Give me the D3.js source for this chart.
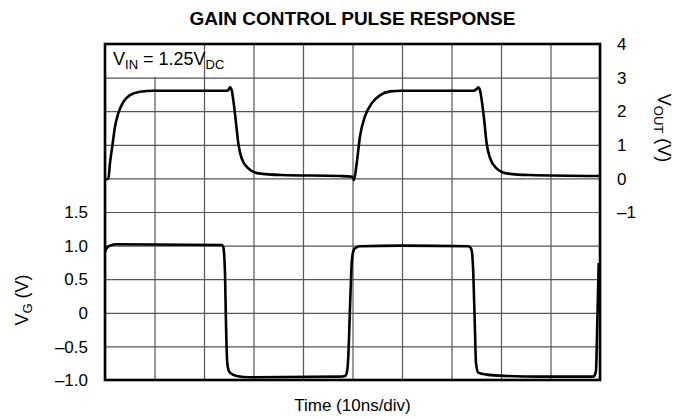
<!DOCTYPE html>
<html><head><meta charset="utf-8">
<script src="https://cdn.jsdelivr.net/npm/d3@7"></script>
<style>
html,body{margin:0;padding:0;background:#fff;}
text{font-family:"Liberation Sans",Arial,Helvetica,sans-serif;fill:#000;}
</style></head>
<body><svg id="c" width="673" height="419"></svg>
<script>
// Time in ns (10 ns/div)
const timeDomain = [0, 100];
const timeTicks = [0,10,20,30,40,50,60,70,80,90,100];
// V_OUT (right axis)
const voutDomain = [-6, 4];
const voutTicks = [4,3,2,1,0,-1];
const voutTickLabels = ["4","3","2","1","0","\u20131"];
// V_G (left axis)
const vgDomain = [-1, 4];
const vgTicks = [1.5,1.0,0.5,0,-0.5,-1.0];
const vgTickLabels = ["1.5","1.0","0.5","0","\u20130.5","\u20131.0"];
const gridY = [-1,-0.5,0,0.5,1,1.5,2,2.5,3,3.5,4];

const voutT = [0,0.67,1.0,1.55,2.02,2.69,3.7,5.05,7.07,9.76,24.6,25.0,25.25,25.6,25.92,26.4,26.93,27.6,28.95,30.97,35.7,47.5,50.0,50.3,50.85,51.5,52.5,53.9,55.6,57.6,59.9,74.4,75.0,75.4,75.75,76.1,76.6,77.1,77.8,79.1,81.1,85.7,100];
const voutV = [-0.02,-0.02,0.45,1.04,1.54,1.94,2.28,2.48,2.58,2.61,2.61,2.65,2.71,2.62,2.33,1.74,1.04,0.6,0.3,0.15,0.1,0.07,0.05,-0.05,0.45,1.24,1.84,2.24,2.48,2.59,2.61,2.61,2.65,2.71,2.63,2.33,1.74,1.04,0.6,0.3,0.15,0.1,0.07];

const vgT = [0,0.4,1.0,2.36,23.6,23.9,24.04,24.24,24.44,24.7,25.0,25.25,26.6,29.3,47.5,48.5,48.95,49.15,49.5,49.84,50.1,50.5,51.5,59.9,73.4,73.8,74.1,74.4,74.7,74.95,75.4,77.1,81.2,87.9,98.65,99.0,99.2,99.45,99.74];
const vgV = [0.91,0.97,1.0,1.02,1.01,0.98,0.9,0.59,-0.15,-0.75,-0.86,-0.89,-0.94,-0.96,-0.95,-0.94,-0.85,-0.65,0.09,0.74,0.9,0.96,0.99,1.0,0.99,0.97,0.92,0.59,-0.15,-0.75,-0.89,-0.92,-0.94,-0.95,-0.95,-0.92,-0.85,-0.15,0.74];

const L=105,R=600,T=44,B=380;
const svg=d3.select("#c");
const x=d3.scaleLinear().domain(timeDomain).range([L,R]);
const yR=d3.scaleLinear().domain(voutDomain).range([B,T]);
const yL=d3.scaleLinear().domain(vgDomain).range([B,T]);

// grid
const g=svg.append("g");
g.append("g").attr("transform",`translate(0,${B})`)
 .call(d3.axisBottom(x).tickValues(timeTicks).tickSize(-(B-T)).tickFormat(""))
 .call(s=>s.select(".domain").remove())
 .call(s=>s.selectAll("line").attr("stroke","#555").attr("stroke-width",1.2));
g.append("g").attr("transform",`translate(${L},0)`)
 .call(d3.axisLeft(yL).tickValues(gridY).tickSize(-(R-L)).tickFormat(""))
 .call(s=>s.select(".domain").remove())
 .call(s=>s.selectAll("line").attr("stroke","#555").attr("stroke-width",1.2));

// label box
svg.append("rect").attr("x",L).attr("y",T).attr("width",x(20)-L-1.5).attr("height",yL(3.5)-T-0.8).attr("fill","#fff");
const vin=svg.append("text").attr("x",L+8).attr("y",T+21).attr("font-size",18);
vin.append("tspan").text("V");
vin.append("tspan").attr("font-size",13).attr("dy",4).text("IN");
vin.append("tspan").attr("dy",-4).text(" = 1.25V");
vin.append("tspan").attr("font-size",13).attr("dy",4).text("DC");

// curves
const lineR=d3.line().x(d=>x(d[0])).y(d=>yR(d[1])).curve(d3.curveMonotoneX);
const lineL=d3.line().x(d=>x(d[0])).y(d=>yL(d[1])).curve(d3.curveMonotoneX);
svg.append("path").attr("d",lineR(voutT.map((t,i)=>[t,voutV[i]]))).attr("fill","none").attr("stroke","#000").attr("stroke-width",2.6).attr("stroke-linejoin","round");
svg.append("path").attr("d",lineL(vgT.map((t,i)=>[t,vgV[i]]))).attr("fill","none").attr("stroke","#000").attr("stroke-width",2.6).attr("stroke-linejoin","round");

// frame
svg.append("rect").attr("x",L).attr("y",T).attr("width",R-L).attr("height",B-T).attr("fill","none").attr("stroke","#000").attr("stroke-width",2.6);

// tick labels
svg.append("g").selectAll("text").data(vgTicks).join("text")
 .attr("x",88).attr("y",d=>yL(d)).attr("dy","0.36em").attr("text-anchor","end").attr("font-size",17)
 .text((d,i)=>vgTickLabels[i]);
svg.append("g").selectAll("text").data(voutTicks).join("text")
 .attr("x",617).attr("y",d=>yR(d)).attr("dy","0.36em").attr("text-anchor","start").attr("font-size",17)
 .text((d,i)=>voutTickLabels[i]);

// title
svg.append("text").attr("x",(L+R)/2).attr("y",25).attr("text-anchor","middle").attr("font-size",19).attr("font-weight","bold").text("GAIN CONTROL PULSE RESPONSE");
// x label
svg.append("text").attr("x",(L+R)/2).attr("y",411).attr("text-anchor","middle").attr("font-size",17).text("Time (10ns/div)");
// right label
const rl=svg.append("text").attr("transform",`translate(658,${(T+yR(-1))/2}) rotate(90)`).attr("text-anchor","middle").attr("font-size",18);
rl.append("tspan").text("V");
rl.append("tspan").attr("font-size",13).attr("dy",4).text("OUT");
rl.append("tspan").attr("dy",-4).text(" (V)");
// left label
const ll=svg.append("text").attr("transform",`translate(28,${(yL(1.5)+B)/2+4}) rotate(-90)`).attr("text-anchor","middle").attr("font-size",18);
ll.append("tspan").text("V");
ll.append("tspan").attr("font-size",13).attr("dy",4).text("G");
ll.append("tspan").attr("dy",-4).text(" (V)");
</script></body></html>
